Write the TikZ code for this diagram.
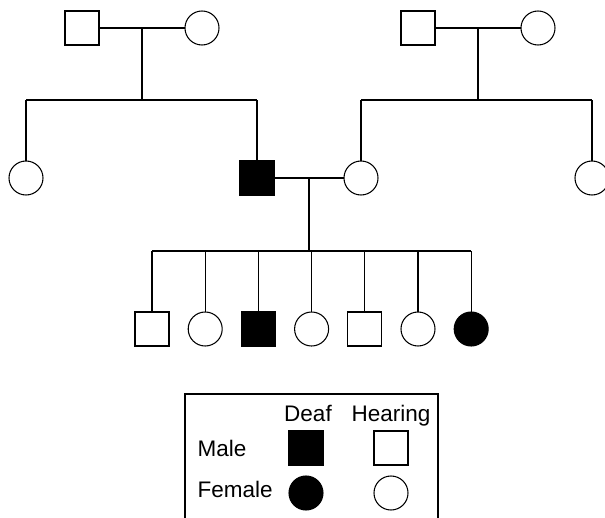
\documentclass[tikz,border=0pt]{standalone}
\usepackage{fontspec}
\setmainfont{Liberation Sans}
\usetikzlibrary{calc}
\colorlet{deafFill}{black}
\colorlet{hearingFill}{white}
\tikzset{
  person/.style={draw,line width=0.75pt,minimum size=0.85cm,inner sep=0pt,outer sep=0pt},
  male/.style={person,rectangle},
  female/.style={person,circle},
  deaf/.style={fill=deafFill},
  hearing/.style={fill=hearingFill},
  legend label/.style={font=\fontsize{16}{19}\selectfont,inner sep=0pt},
}

\begin{document}
\begin{tikzpicture}[x=0.025cm,y=-0.025cm,line width=0.75pt]
\useasboundingbox (0,0) rectangle (605,518);
\clip (0,0) rectangle (605,518);
% grandparents
\node[male,hearing] (gfLeft) at (82,28) {};
\node[female,hearing] (gmLeft) at (202,28) {};
\node[male,hearing] (gfRight) at (418,28) {};
\node[female,hearing] (gmRight) at (538,28) {};
% parents and their sisters
\node[female,hearing] (auntLeft) at (26,178) {};
\node[male,deaf] (father) at (257,178) {};
\node[female,hearing] (mother) at (361,178) {};
\node[female,hearing] (auntRight) at (592,178) {};
\coordinate (sibTop) at (0,100);
\coordinate (sibLow) at (0,251);
% left family
\draw (gfLeft) -- coordinate (marLeft) (gmLeft);
\draw (marLeft) -- (marLeft |- sibTop);
\draw (auntLeft.north |- sibTop) -- (father.north |- sibTop);
\draw (auntLeft.north) -- (auntLeft.north |- sibTop);
\draw (father.north) -- (father.north |- sibTop);
% right family
\draw (gfRight) -- coordinate (marRight) (gmRight);
\draw (marRight) -- (marRight |- sibTop);
\draw (mother.north |- sibTop) -- (auntRight.north |- sibTop);
\draw (mother.north) -- (mother.north |- sibTop);
\draw (auntRight.north) -- (auntRight.north |- sibTop);
% children
\draw (father) -- coordinate (marMid) (mother);
\draw (marMid) -- (marMid |- sibLow);
\foreach[count=\k] \gender/\trait in {male/hearing,female/hearing,male/deaf,female/hearing,male/hearing,female/hearing,female/deaf} {
  \node[\gender,\trait] (kid\k) at ({152+53.2*(\k-1)},329) {};
  \draw (kid\k.north) -- (kid\k.north |- sibLow);
}
\draw (kid1.north |- sibLow) -- (kid7.north |- sibLow);
% legend
\draw (185,394) rectangle (438,540);
\node[legend label,anchor=base] (deafText) at (308,421) {Deaf};
\node[legend label,anchor=base] (hearingText) at (391,421) {Hearing};
\node[legend label,anchor=base west] (maleText) at (197,456) {Male};
\node[legend label,anchor=base west] (femaleText) at (197,497) {Female};
\node[male,deaf] (keyMaleDeaf) at (306,448) {};
\node[male,hearing] (keyMaleHearing) at (391,448) {};
\node[female,deaf] (keyFemaleDeaf) at (306,493) {};
\node[female,hearing] (keyFemaleHearing) at (391,493) {};
\end{tikzpicture}
\end{document}
